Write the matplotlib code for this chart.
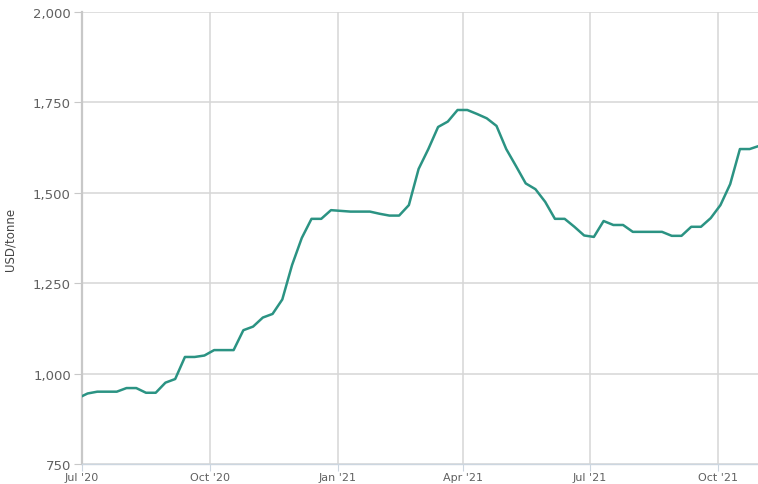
import matplotlib
matplotlib.use("Agg")
import matplotlib.pyplot as plt
import numpy as np
import pandas as pd

start_date = "2020-06-28"
prices = [932, 945, 950, 950, 950, 960, 960, 947, 947, 975, 985,
          1046, 1046, 1050, 1065, 1065, 1065, 1120, 1130, 1155, 1165,
          1205, 1300, 1375, 1428, 1428, 1452, 1450, 1448, 1448, 1448,
          1442, 1437, 1437, 1466, 1566, 1621, 1682, 1697, 1729, 1729,
          1718, 1706, 1685, 1621, 1574, 1526, 1510, 1475, 1428, 1428,
          1406, 1382, 1378, 1422, 1411, 1411, 1392, 1392, 1392, 1392,
          1381, 1381, 1406, 1406, 1430, 1466, 1524, 1621, 1621, 1630]
dates = pd.date_range(start_date, periods=len(prices), freq="7D")

x_ticks = ["2020-07-01", "2020-10-01", "2021-01-01", "2021-04-01", "2021-07-01", "2021-10-01"]
x_tick_labels = ["Jul '20", "Oct '20", "Jan '21", "Apr '21", "Jul '21", "Oct '21"]
y_ticks = [750, 1000, 1250, 1500, 1750, 2000]
y_tick_labels = ["750", "1,000", "1,250", "1,500", "1,750", "2,000"]

fig = plt.figure(figsize=(7.58, 4.85), dpi=100)
ax = fig.add_axes([82/758, 1-465/485, 1-82/758, (465-13)/485])

ax.plot(dates, prices, color="#2b9383", lw=1.8, zorder=3, clip_on=True)

ax.set_xlim(pd.Timestamp("2020-07-01"), pd.Timestamp("2021-10-30"))
ax.set_ylim(750, 2000)
ax.set_xticks(pd.to_datetime(x_ticks))
ax.set_xticklabels(x_tick_labels)
ax.set_yticks(y_ticks)
ax.set_yticklabels(y_tick_labels)

ax.grid(True, color="#d6d6d6", lw=1.1)
ax.set_axisbelow(True)
for s in ["top", "right"]:
    ax.spines[s].set_visible(False)
ax.spines["left"].set_color("#c8c8c8")
ax.spines["left"].set_linewidth(1.6)
ax.spines["bottom"].set_color("#ccd6e0")
ax.spines["bottom"].set_linewidth(1.0)

ax.tick_params(axis="y", length=6, color="#c8c8c8", labelsize=9.5, labelcolor="#606060", pad=2)
ax.tick_params(axis="x", length=5, color="#ccd6e0", labelsize=8, labelcolor="#606060", pad=1)

ax.set_ylabel("USD/tonne", fontsize=8.5, color="#444444", labelpad=12)

fig.savefig("out.png", dpi=100)
